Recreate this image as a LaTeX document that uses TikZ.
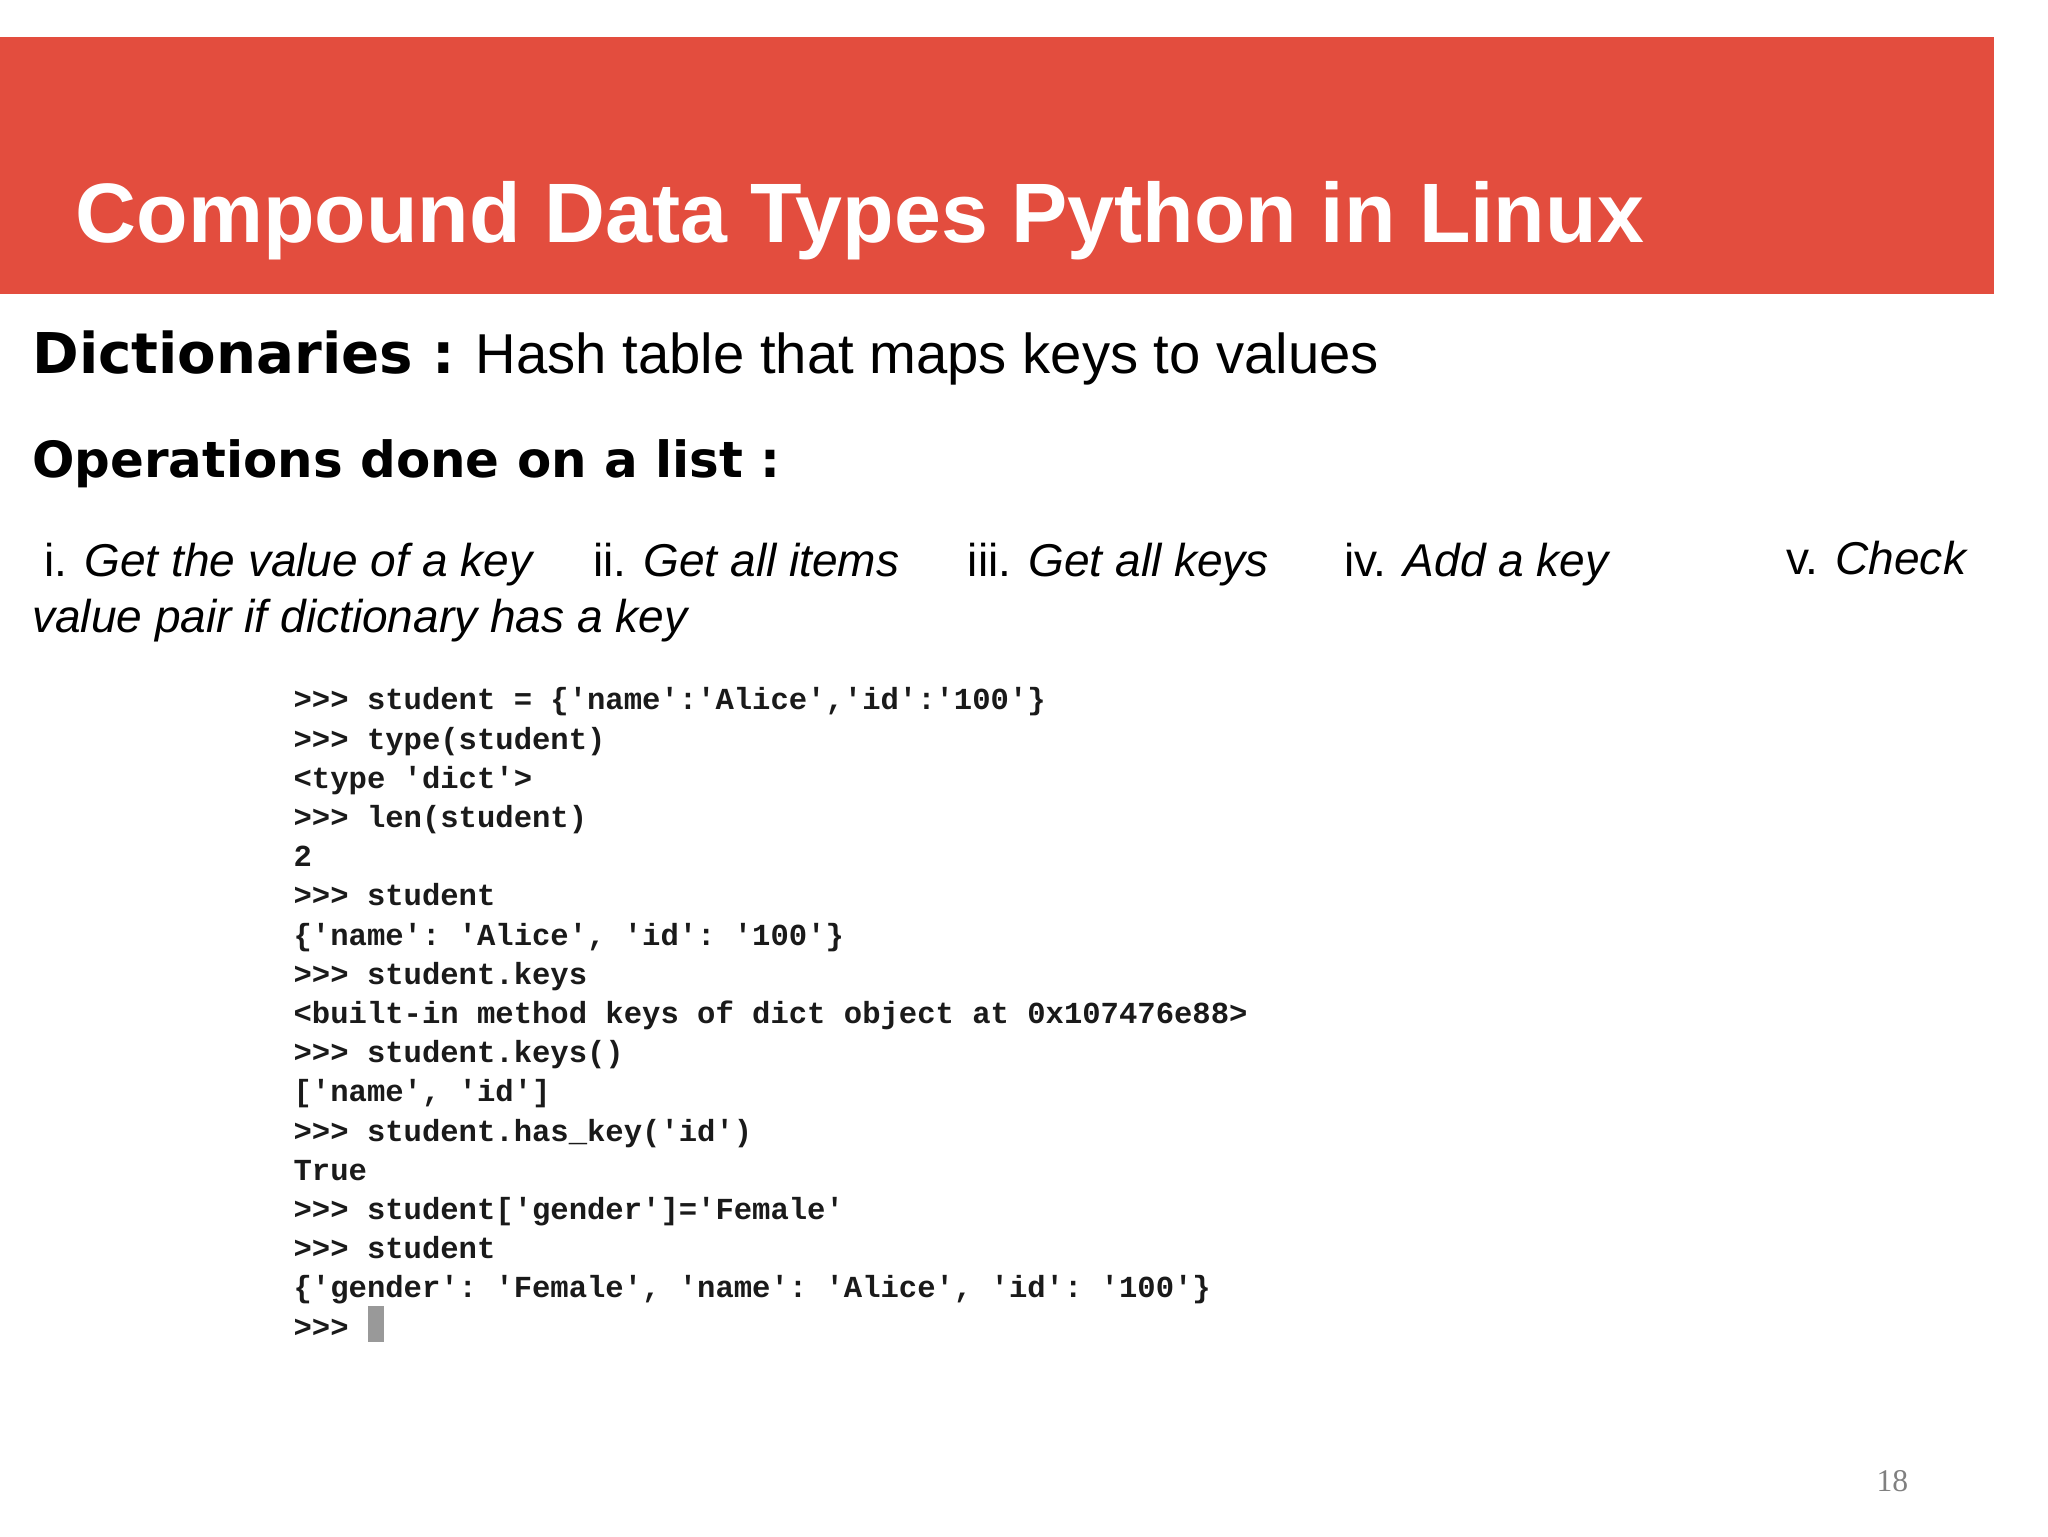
\documentclass[tikz,border=0pt]{standalone}
\usepackage{fontspec}
\setmainfont{Liberation Sans}
\setmonofont{Liberation Mono}
\newfontfamily\pgnum{Liberation Serif}
\newfontfamily\heavy{DejaVu Sans}
\definecolor{band}{HTML}{E34D3E}
\definecolor{codec}{HTML}{1A1A1A}
\begin{document}
\begin{tikzpicture}[x=0.013196cm,y=-0.013196cm,
  codeline/.style={anchor=base west,inner sep=0,text=codec,font=\ttfamily\bfseries\fontsize{8.7}{10}\selectfont},
  item/.style={anchor=base west,inner sep=0,font=\fontsize{13.1}{15}\selectfont}]
\useasboundingbox (0,0) rectangle (1552,1164);
\fill[white] (0,0) rectangle (1552,1164);
\fill[band] (0,28) rectangle (1511,223);
\node[anchor=base west,inner sep=0,text=white,font=\bfseries\fontsize{24}{28}\selectfont] (title) at (57,184) {Compound Data Types Python in Linux};
\node[anchor=base west,inner sep=0,font=\fontsize{16}{18}\selectfont] (dict) at (24,283) {{\heavy\bfseries Dictionaries :} Hash table that maps keys to values};
\node[anchor=base west,inner sep=0,font=\heavy\bfseries\fontsize{14.2}{17}\selectfont] (ops) at (24,362) {Operations done on a list :};
\node[item] (i1) at (33,437) {i. \textit{Get the value of a key}};
\node[item] (i2) at (449,437) {ii. \textit{Get all items}};
\node[item] (i3) at (733,437) {iii. \textit{Get all keys}};
\node[item] (i4) at (1018,437) {iv. \textit{Add a key}};
\node[item] (i5) at (1353,435) {v. \textit{Check}};
\node[item] (i6) at (24,479) {\textit{value pair if dictionary has a key}};
\node[codeline] (c1) at (222,538) {>>> student = \{'name':'Alice','id':'100'\}};
\node[codeline] (c2) at (222,567.7) {>>> type(student)};
\node[codeline] (c3) at (222,597.4) {<type 'dict'>};
\node[codeline] (c4) at (222,627.1) {>>> len(student)};
\node[codeline] (c5) at (222,656.8) {2};
\node[codeline] (c6) at (222,686.5) {>>> student};
\node[codeline] (c7) at (222,716.2) {\{'name': 'Alice', 'id': '100'\}};
\node[codeline] (c8) at (222,745.9) {>>> student.keys};
\node[codeline] (c9) at (222,775.6) {<built-in method keys of dict object at 0x107476e88>};
\node[codeline] (c10) at (222,805.3) {>>> student.keys()};
\node[codeline] (c11) at (222,835) {['name', 'id']};
\node[codeline] (c12) at (222,864.7) {>>> student.has\_key('id')};
\node[codeline] (c13) at (222,894.4) {True};
\node[codeline] (c14) at (222,924.1) {>>> student['gender']='Female'};
\node[codeline] (c15) at (222,953.8) {>>> student};
\node[codeline] (c16) at (222,983.5) {\{'gender': 'Female', 'name': 'Alice', 'id': '100'\}};
\node[codeline] (c17) at (222,1013.2) {>>>};
\fill[gray!80] (279,990) rectangle (291,1017);
\node[anchor=base,inner sep=0,text=gray,font=\pgnum\fontsize{9}{10}\selectfont] (pg) at (1434,1130) {18};
\end{tikzpicture}
\end{document}
